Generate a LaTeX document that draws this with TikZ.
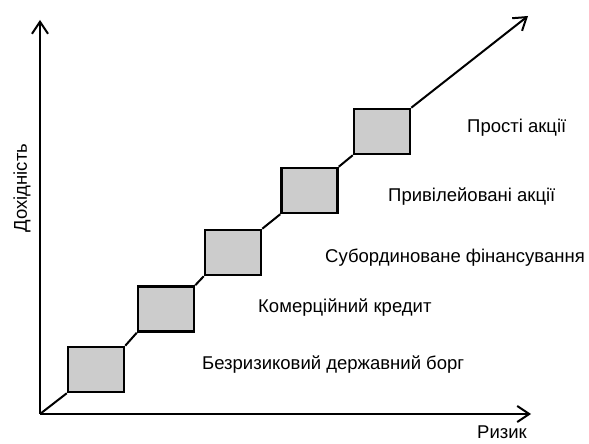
\documentclass[tikz,border=0pt]{standalone}
\usepackage{fontspec}
\setmainfont{Liberation Sans}
\usetikzlibrary{arrows.meta}

\begin{document}
\begin{tikzpicture}[x=10pt, y=10pt,
  ax/.style={line width=2pt, -{Straight Barb[length=12pt, width=16pt]}},
  link/.style={line width=2pt},
  stage/.style={draw, line width=2.5pt, fill=black!20, minimum width=56pt, minimum height=45pt, inner sep=0pt},
  lbl/.style={anchor=west, inner sep=0pt, font=\fontsize{18.5}{22}\selectfont}]
\useasboundingbox (0, 0) rectangle (58.9, 44.4);

\coordinate (o) at (4, 3);
\coordinate (ytip) at (4, 42.4);
\coordinate (xtip) at (53.1, 3);
\coordinate (dtip) at (52.8, 42.8);

\draw[ax] (o) -- (ytip);
\draw[ax] (o) -- (xtip);

\node[stage] (b1) at (9.6, 7.45) {};
\node[stage] (b2) at (16.6, 13.5) {};
\node[stage] (b3) at (23.3, 19.15) {};
\node[stage] (b4) at (30.95, 25.35) {};
\node[stage] (b5) at (38.2, 31.25) {};

\draw[link] (o) -- (b1.south west);
\draw[link] (b1.north east) -- (b2.south west);
\draw[link] (b2.north east) -- (b3.south west);
\draw[link] (b3.north east) -- (b4.south west);
\draw[link] (b4.north east) -- (b5.south west);
\draw[ax] (b5.north east) -- (dtip);

\node[lbl] (t1) at (20.2, 7.9) {Безризиковий державний борг};
\node[lbl] (t2) at (25.8, 13.6) {Комерційний кредит};
\node[lbl] (t3) at (32.5, 18.6) {Субординоване фінансування};
\node[lbl] (t4) at (38.8, 24.7) {Привілейовані акції};
\node[lbl] (t5) at (46.7, 31.6) {Прості акції};

\node[lbl, anchor=center] (xl) at (50.2, 1.2) {Ризик};
\node[lbl, anchor=center, rotate=90] (yl) at (2.2, 25.6) {Дохідність};
\end{tikzpicture}
\end{document}
